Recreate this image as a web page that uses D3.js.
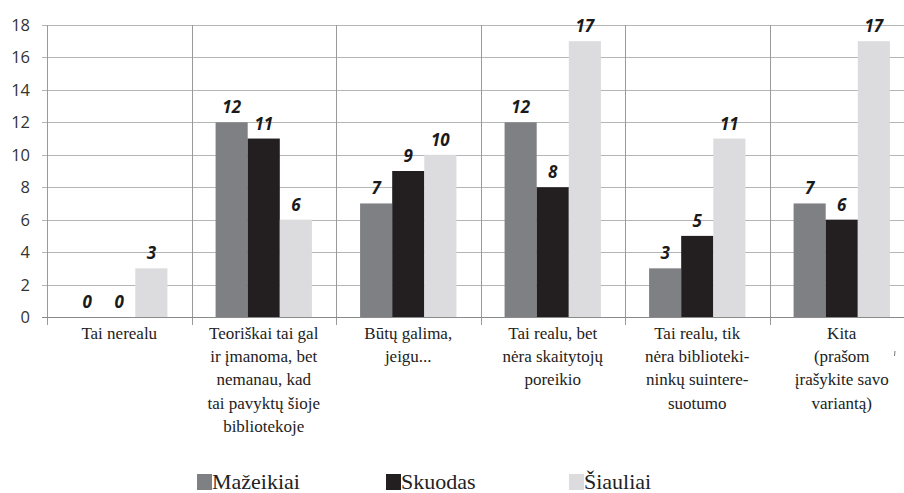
<!DOCTYPE html>
<html>
<head>
<meta charset="utf-8">
<script src="https://cdn.jsdelivr.net/npm/d3@7"></script>
</head>
<body style="margin:0; background:#fff">
<div id="c"></div>
<script>
// Survey answers per library
const categories = ["c1", "c2", "c3", "c4", "c5", "c6"];
const categoryLines = [
    ["Tai nerealu"],
    ["Teoriškai tai gal", "ir įmanoma, bet", "nemanau, kad", "tai pavyktų šioje", "bibliotekoje"],
    ["Būtų galima,", "jeigu..."],
    ["Tai realu, bet", "nėra skaitytojų", "poreikio"],
    ["Tai realu, tik", "nėra biblioteki-", "ninkų suintere-", "suotumo"],
    ["Kita", "(prašom", "įrašykite savo", "variantą)"]
];
const seriesNames = ["Mažeikiai", "Skuodas", "Šiauliai"];
const mazeikiai = [0, 12, 7, 12, 3, 7];
const skuodas = [0, 11, 9, 8, 5, 6];
const siauliai = [3, 6, 10, 17, 11, 17];
const yTicks = [0, 2, 4, 6, 8, 10, 12, 14, 16, 18];

const colors = ["#7f8084", "#231f20", "#dcdcde"];
const seriesValues = [mazeikiai, skuodas, siauliai];

const W = 904, H = 493;
const svg = d3.select("#c").append("svg").attr("width", W).attr("height", H);

const plotLeft = 47, plotTop = 25, plotBottom = 317;
const catW = 144.5;

const x = d3.scaleBand().domain(categories).range([plotLeft, plotLeft + catW * categories.length]);
const xs = d3.scaleBand().domain(seriesNames).range([0, catW]).paddingOuter(0.75).paddingInner(0);
const y = d3.scaleLinear().domain([0, 18]).range([plotBottom, plotTop]);

// horizontal gridlines with short ticks on the left
svg.append("g").selectAll("line").data(yTicks).enter().append("line")
    .attr("x1", plotLeft - 5).attr("x2", W)
    .attr("y1", d => Math.round(y(d)) + 0.5).attr("y2", d => Math.round(y(d)) + 0.5)
    .attr("stroke", d => d === 0 ? "#8a8a8a" : "#b5b5b5").attr("stroke-width", 1);

// y tick labels
svg.append("g").selectAll("text").data(yTicks).enter().append("text")
    .attr("font-size", 16.5).style("font-family", "'Open Sans'").attr("fill", "#333")
    .attr("x", 30).attr("y", d => y(d) + 6)
    .attr("text-anchor", "end")
    .text(d => d);

// vertical category separators
const seps = categories.map(c => x(c));
svg.append("g").selectAll("line").data(seps).enter().append("line")
    .attr("x1", d => Math.round(d) + 0.5).attr("x2", d => Math.round(d) + 0.5)
    .attr("y1", plotTop).attr("y2", plotBottom + 8)
    .attr("stroke", "#9a9a9a").attr("stroke-width", 1);

// bars
seriesNames.forEach((s, si) => {
    const g = svg.append("g");
    g.selectAll("rect").data(seriesValues[si]).enter().append("rect")
        .attr("x", (d, i) => x(categories[i]) + xs(s))
        .attr("width", xs.bandwidth())
        .attr("y", d => y(d))
        .attr("height", d => plotBottom - y(d))
        .attr("fill", colors[si]);
    g.selectAll("text").data(seriesValues[si]).enter().append("text")
        .attr("font-size", 17).style("font-family", "'Open Sans'")
        .attr("font-weight", "bold").attr("font-style", "italic").attr("fill", "#1a1a1a")
        .attr("x", (d, i) => x(categories[i]) + xs(s) + xs.bandwidth() / 2)
        .attr("y", d => y(d) - 9)
        .attr("text-anchor", "middle")
        .text(d => d);
});

// x axis line on top of bars
svg.append("line")
    .attr("x1", plotLeft).attr("x2", W)
    .attr("y1", plotBottom + 0.5).attr("y2", plotBottom + 0.5)
    .attr("stroke", "#8a8a8a");

// category labels, one text per line
categories.forEach((c, i) => {
    categoryLines[i].forEach((line, li) => {
        svg.append("text")
            .attr("font-size", 17).style("font-family", "'Liberation Serif'").attr("fill", "#222")
            .attr("text-anchor", "middle")
            .attr("x", x(c) + catW / 2).attr("y", 339 + li * 23.2)
            .text(line);
    });
});

// stray tick mark on the right
svg.append("line").attr("x1", 895).attr("x2", 894.5).attr("y1", 351).attr("y2", 356)
    .attr("stroke", "#777").attr("stroke-width", 1);

// legend
const legendX = [197, 386, 569];
seriesNames.forEach((s, i) => {
    svg.append("rect").attr("x", legendX[i]).attr("y", 474).attr("width", 15).attr("height", 16).attr("fill", colors[i]);
    svg.append("text").attr("font-size", 22).style("font-family", "'Liberation Serif'").attr("fill", "#222")
        .attr("x", legendX[i] + 15).attr("y", 489).text(s);
});
</script>
</body>
</html>
